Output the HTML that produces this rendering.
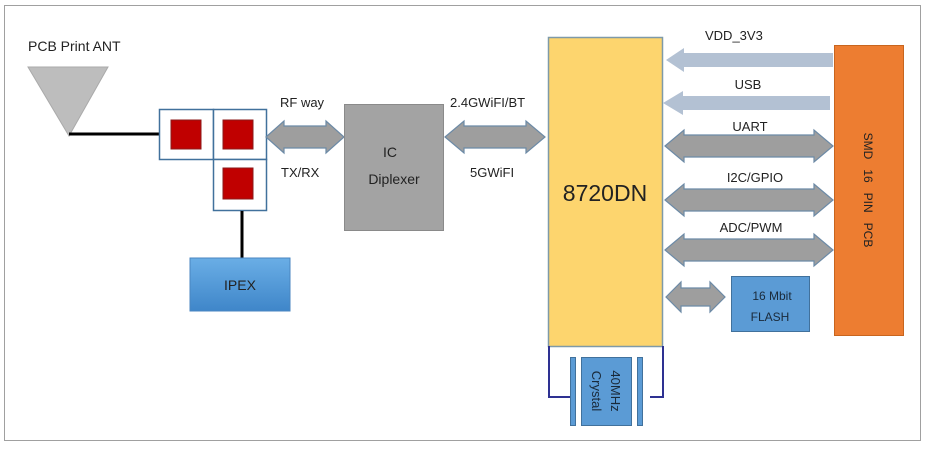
<!DOCTYPE html>
<html><head><meta charset="utf-8"><style>
html,body{margin:0;padding:0;background:#fff;}
svg{display:block;font-family:"Liberation Sans",sans-serif;}
</style></head><body>
<svg width="929" height="449" viewBox="0 0 929 449" xmlns="http://www.w3.org/2000/svg">
<defs>
<linearGradient id="ipex" x1="0" y1="0" x2="0" y2="1"><stop offset="0" stop-color="#6aaee6"/><stop offset="1" stop-color="#3f86c9"/></linearGradient>
</defs>
<rect x="4.5" y="5.5" width="916" height="435" fill="#fff" stroke="#a0a0a0" stroke-width="1"/>
<text x="28" y="51" font-size="14" fill="#222">PCB Print ANT</text>
<polygon points="28,67 108,67 69,136" fill="#bdbdbd" stroke="#aaa"/>
<line x1="69" y1="134" x2="160" y2="134" stroke="#000" stroke-width="3"/>
<rect x="159.5" y="109.5" width="54" height="50" fill="#fff" stroke="#41719c" stroke-width="1.5"/>
<rect x="213.5" y="109.5" width="53" height="50" fill="#fff" stroke="#41719c" stroke-width="1.5"/>
<rect x="213.5" y="159.5" width="53" height="51" fill="#fff" stroke="#41719c" stroke-width="1.5"/>
<rect x="171" y="120" width="30" height="29" fill="#c00000" stroke="#8b1a1a"/>
<rect x="223" y="120" width="30" height="29" fill="#c00000" stroke="#8b1a1a"/>
<rect x="223" y="168" width="30" height="31" fill="#c00000" stroke="#8b1a1a"/>
<line x1="242" y1="211" x2="242" y2="258" stroke="#000" stroke-width="3"/>
<rect x="190" y="258" width="100" height="53" fill="url(#ipex)" stroke="#4a86c0"/>
<text x="240" y="290" font-size="14" text-anchor="middle" fill="#222">IPEX</text>
<!-- RF arrow -->
<polygon points="266,137 284,121 284,126 326,126 326,121 344,137 326,153 326,148 284,148 284,153" fill="#9e9e9e" stroke="#6c8aa6" stroke-width="1.2"/>
<text x="280" y="107" font-size="13" fill="#222">RF way</text>
<text x="281" y="177" font-size="13" fill="#222">TX/RX</text>
<rect x="344.5" y="104.5" width="99" height="126" fill="#a3a3a3" stroke="#8a8a8a"/>
<text x="390" y="157" font-size="14" text-anchor="middle" fill="#222">IC</text>
<text x="394" y="184" font-size="14" text-anchor="middle" fill="#222">Diplexer</text>
<polygon points="445,137 464,121 464,126 526,126 526,121 545,137 526,153 526,148 464,148 464,153" fill="#9e9e9e" stroke="#6c8aa6" stroke-width="1.2"/>
<text x="450" y="107" font-size="13" fill="#222">2.4GWiFI/BT</text>
<text x="470" y="177" font-size="13" fill="#222">5GWiFI</text>
<!-- main chip -->
<rect x="548.5" y="37.5" width="114" height="309" fill="#fdd56e" stroke="#7f9aa8" stroke-width="1.5"/>
<text x="605" y="201" font-size="23" text-anchor="middle" fill="#222">8720DN</text>
<!-- power arrows -->
<polygon points="666,60 684,48 684,53 833,53 833,67 684,67 684,72" fill="#b3c1d3"/>
<text x="705" y="40" font-size="13" fill="#222">VDD_3V3</text>
<polygon points="663,103 683,91 683,96 830,96 830,110 683,110 683,115" fill="#b3c1d3"/>
<text x="748" y="89" font-size="13" text-anchor="middle" fill="#222">USB</text>
<polygon points="665,146 684,130 684,135 814,135 814,130 833,146 814,162 814,157 684,157 684,162" fill="#9e9e9e" stroke="#6c8aa6" stroke-width="1.2"/>
<text x="750" y="131" font-size="13" text-anchor="middle" fill="#222">UART</text>
<polygon points="665,200 684,184 684,189 814,189 814,184 833,200 814,216 814,211 684,211 684,216" fill="#9e9e9e" stroke="#6c8aa6" stroke-width="1.2"/>
<text x="755" y="182" font-size="13" text-anchor="middle" fill="#222">I2C/GPIO</text>
<polygon points="665,250 684,234 684,239 814,239 814,234 833,250 814,266 814,261 684,261 684,266" fill="#9e9e9e" stroke="#6c8aa6" stroke-width="1.2"/>
<text x="751" y="232" font-size="13" text-anchor="middle" fill="#222">ADC/PWM</text>
<polygon points="666,297 681,282 681,288 710,288 710,282 725,297 710,312 710,306 681,306 681,312" fill="#9e9e9e" stroke="#6c8aa6" stroke-width="1.2"/>
<rect x="731.5" y="276.5" width="78" height="55" fill="#5b9bd5" stroke="#41719c"/>
<text x="772" y="300" font-size="12" text-anchor="middle" fill="#1a2a3a">16 Mbit</text>
<text x="770" y="321" font-size="12" text-anchor="middle" fill="#1a2a3a">FLASH</text>
<rect x="834.5" y="45.5" width="69" height="290" fill="#ed7d31" stroke="#c8651e"/>
<text transform="translate(864,190) rotate(90)" font-size="12" text-anchor="middle" fill="#222" xml:space="preserve">SMD   16   PIN   PCB</text>
<!-- crystal -->
<polyline points="549,346 549,397 570,397" fill="none" stroke="#2e3192" stroke-width="2"/>
<polyline points="663,346 663,397 650,397" fill="none" stroke="#2e3192" stroke-width="2"/>
<rect x="570.5" y="357.5" width="5" height="68" fill="#5b9bd5" stroke="#41719c"/>
<rect x="637.5" y="357.5" width="5" height="68" fill="#5b9bd5" stroke="#41719c"/>
<rect x="581.5" y="357.5" width="50" height="68" fill="#5b9bd5" stroke="#41719c"/>
<text transform="translate(611,391) rotate(90)" font-size="13" text-anchor="middle" fill="#1a2a3a">40MHz</text>
<text transform="translate(592,391) rotate(90)" font-size="13" text-anchor="middle" fill="#1a2a3a">Crystal</text>
</svg>
</body></html>
